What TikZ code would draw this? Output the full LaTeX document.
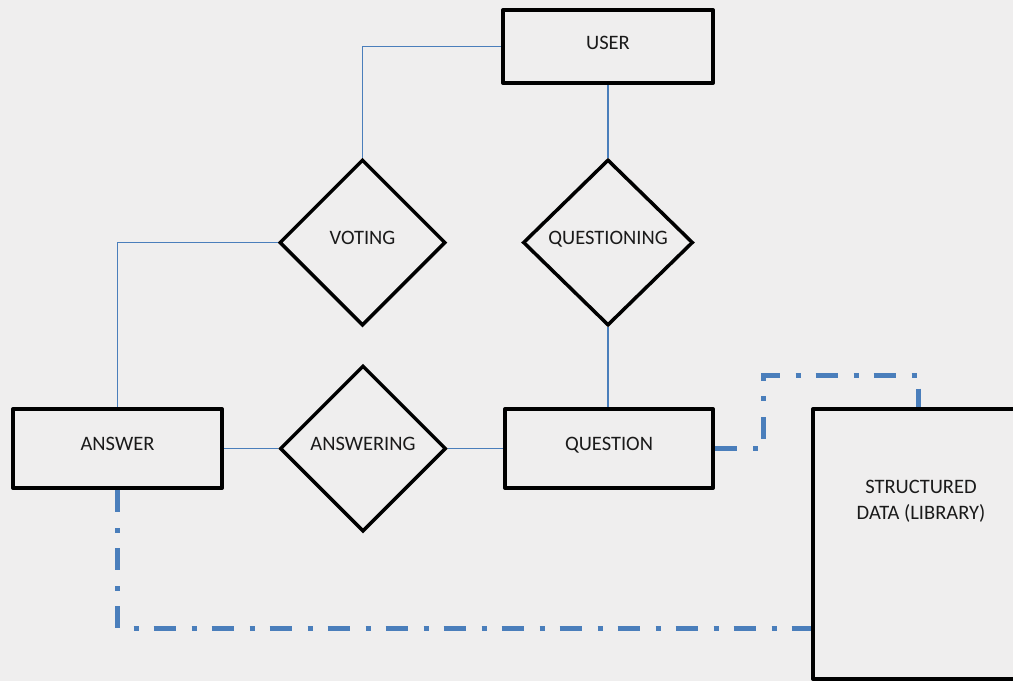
\documentclass[tikz,border=0pt]{standalone}
\usepackage{fontspec}
\setmainfont{Carlito}
\usetikzlibrary{shapes.geometric}
\definecolor{bg}{HTML}{EFEEEE}
\definecolor{conn}{HTML}{4A7EBB}
\definecolor{txt}{HTML}{1A1A1A}
\begin{document}
\begin{tikzpicture}[x=1pt,y=-1pt,
 lbl/.style={text=txt, font=\fontsize{20.5}{26}\selectfont, text height=13.5pt, text depth=10pt},
 entity/.style={draw=black, line width=4pt, line join=round, inner sep=0pt, lbl},
 rel/.style={draw=black, diamond, line width=3.5pt, inner sep=0pt, minimum width=166pt, minimum height=166pt, lbl},
 link/.style={draw=conn, line width=1.8pt},
 dlink/.style={draw=conn, line width=5pt, dash pattern=on 22pt off 16pt on 5pt off 15pt}
]
\fill[bg] (0,0) rectangle (1013,681);
\useasboundingbox (0,0) rectangle (1013,681);
\clip (0,0) rectangle (1013,681);

\node[entity, minimum width=210pt, minimum height=73pt, text depth=7pt] (user) at (608,46.5) {USER};
\node[rel] (voting) at (362.5,242.5) {VOTING};
\node[rel, minimum width=170pt] (questioning) at (608,242.5) {QUESTIONING};
\node[entity, minimum width=209pt, minimum height=79pt] (answer) at (117.5,448.5) {ANSWER};
\node[rel] (answering) at (363,448.5) {ANSWERING};
\node[entity, minimum width=208pt, minimum height=79pt] (question) at (609,448.5) {QUESTION};
\node[entity, minimum width=216pt, minimum height=270pt] (sd) at (921,544) {};
\node[text=txt, align=center, font=\fontsize{20.5}{26}\selectfont] (sdtext) at (921,501) {STRUCTURED\\DATA (LIBRARY)};

\coordinate (k1) at (763,375);
\coordinate (k2) at (0,628);

\draw[link] (user.west) -| (voting.north);
\draw[link] (user.south) -- (questioning.north);
\draw[link] (questioning.south) -- (questioning.south |- question.north);
\draw[link] (voting.west) -| (answer.north);
\draw[link] (answer.east) -- (answering.west);
\draw[link] (answering.east) -- (question.west);
\draw[dlink] (question.east) -| (k1) -| ([xshift=-3pt]sd.north);
\draw[dlink] (answer.south) |- (sd.west |- k2);
\end{tikzpicture}
\end{document}
